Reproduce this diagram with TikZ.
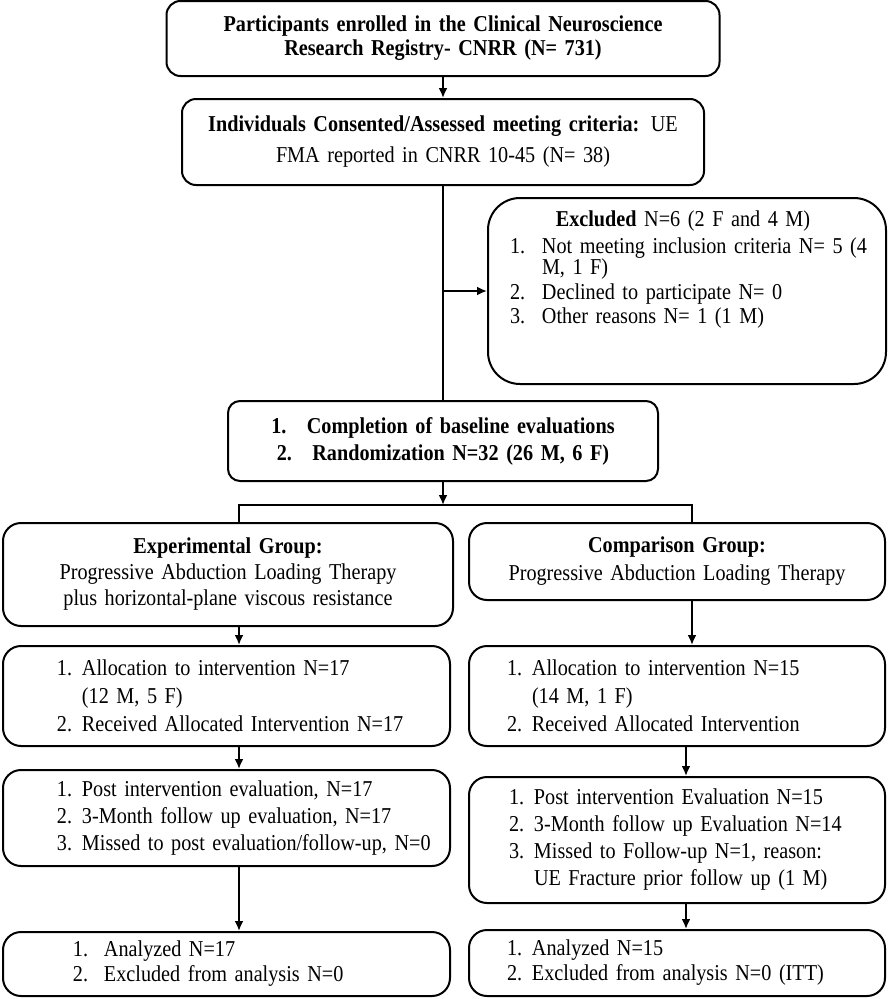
\documentclass[tikz,border=0pt]{standalone}
\usepackage{fontspec}
\setmainfont[FakeStretch=0.89]{Liberation Serif}
\usetikzlibrary{arrows.meta}
\newlength{\mg}
\newcommand{\nr}[2][25pt]{\hspace*{\mg}\makebox[#1][l]{#2}}
\begin{document}
\begin{tikzpicture}[x=1pt,y=-1pt,line width=2pt,>={Latex[length=10pt,width=9pt]},
    box/.style={draw,rounded corners=14pt,inner sep=0pt,align=center,font=\fontsize{22.7}{24}\selectfont},
    bf/.style={font=\fontsize{22.7}{24}\selectfont\bfseries},
    lst/.style={box,rounded corners=18pt,align=left},
    mg/.style={execute at begin node={\setlength{\mg}{#1}}}]
                \useasboundingbox (0,0) rectangle (888,999);
                \node[box,bf,text width=553pt,minimum height=75pt] (enr) at (443,38.5) {Participants enrolled in the Clinical Neuroscience\\Research Registry- CNRR (N= 731)};
                \node[box,text width=522pt,minimum height=86pt] (cons) at (443,142) {\textbf{Individuals Consented/Assessed meeting criteria:} UE\\[7pt]FMA reported in CNRR 10-45 (N= 38)};
                \node[lst,rounded corners=32pt,text width=370pt,inner xsep=14pt,minimum height=186pt] (excl) at (687,291) {\hspace*{\fill}\textbf{Excluded} N=6 (2 F and 4 M)\hspace*{\fill}\hspace*{8pt}\null\\[3pt]\hspace*{8pt}\nr[32pt]{1.}Not meeting inclusion criteria N= 5 (4\\[-3pt]\hspace*{8pt}\nr[32pt]{}M, 1 F)\\[1pt]\hspace*{8pt}\nr[32pt]{2.}Declined to participate N= 0\\\hspace*{8pt}\nr[32pt]{3.}Other reasons N= 1 (1 M)\\[24pt]\mbox{}};
                \node[box,bf,rounded corners=12pt,text width=430pt,minimum height=80pt] (base) at (443,441) {1.\hspace{0.9em}Completion of baseline evaluations\\[3pt]2.\hspace{0.9em}Randomization N=32 (26 M, 6 F)};
                \node[box,rounded corners=18pt,text width=450pt,minimum height=103pt] (exp) at (228,574.5) {\textbf{Experimental Group:}\\[2pt]Progressive Abduction Loading Therapy\\[2pt]plus horizontal-plane viscous resistance};
                \node[box,rounded corners=18pt,text width=416pt,minimum height=77pt] (cmp) at (677,561.5) {\textbf{Comparison Group:}\\[4pt]Progressive Abduction Loading Therapy};
                \node[lst,mg=54pt,text width=447pt,minimum height=100pt] (alE) at (226.5,696) {\nr{1.}Allocation to intervention N=17\\[4pt]\nr{}(12 M, 5 F)\\[4pt]\nr{2.}Received Allocated Intervention N=17};
                \node[lst,mg=38pt,text width=416pt,minimum height=100pt] (alC) at (677,696) {\nr{1.}Allocation to intervention N=15\\[4pt]\nr{}(14 M, 1 F)\\[4pt]\nr{2.}Received Allocated Intervention};
                \node[lst,mg=54pt,text width=447pt,minimum height=96pt] (poE) at (226.5,818) {\nr{1.}Post intervention evaluation, N=17\\[3pt]\nr{2.}3-Month follow up evaluation, N=17\\[3pt]\nr{3.}Missed to post evaluation/follow-up, N=0};
                \node[lst,mg=40pt,text width=416pt,minimum height=126pt] (poC) at (677,840) {\nr{1.}Post intervention Evaluation N=15\\[3pt]\nr{2.}3-Month follow up Evaluation N=14\\[3pt]\nr{3.}Missed to Follow-up N=1, reason:\\[3pt]\nr{}UE Fracture prior follow up (1 M)};
                \node[lst,mg=70pt,text width=447pt,minimum height=64pt] (anE) at (226.5,964) {\nr[31pt]{1.}Analyzed N=17\\[1pt]\nr[31pt]{2.}Excluded from analysis N=0};
                \node[lst,mg=38pt,text width=416pt,minimum height=66pt] (anC) at (677,963) {\nr{1.}Analyzed N=15\\[1pt]\nr{2.}Excluded from analysis N=0 (ITT)};
                \coordinate (sp) at (443,505); \coordinate (lc) at (239,0); \coordinate (rc) at (692,0); \coordinate (rd) at (686,0);

                \draw[->] (enr) to (cons); \draw (cons) to (base); \draw[->] (excl.west -| cons.south) to (excl);
                \draw[->] (base) to (sp); \draw (exp.north -| lc) |- (sp) -| (cmp.north -| rc);
                \draw[->] (exp.south -| lc) to (alE.north -| lc); \draw[->] (cmp.south -| rc) to (alC.north -| rc);
                \draw[->] (alE.south -| lc) to (poE.north -| lc); \draw[->] (alC.south -| rd) to (poC.north -| rd);
                \draw[->] (poE.south -| lc) to (anE.north -| lc); \draw[->] (poC.south -| rd) to (anC.north -| rd);
\end{tikzpicture}
\end{document}
